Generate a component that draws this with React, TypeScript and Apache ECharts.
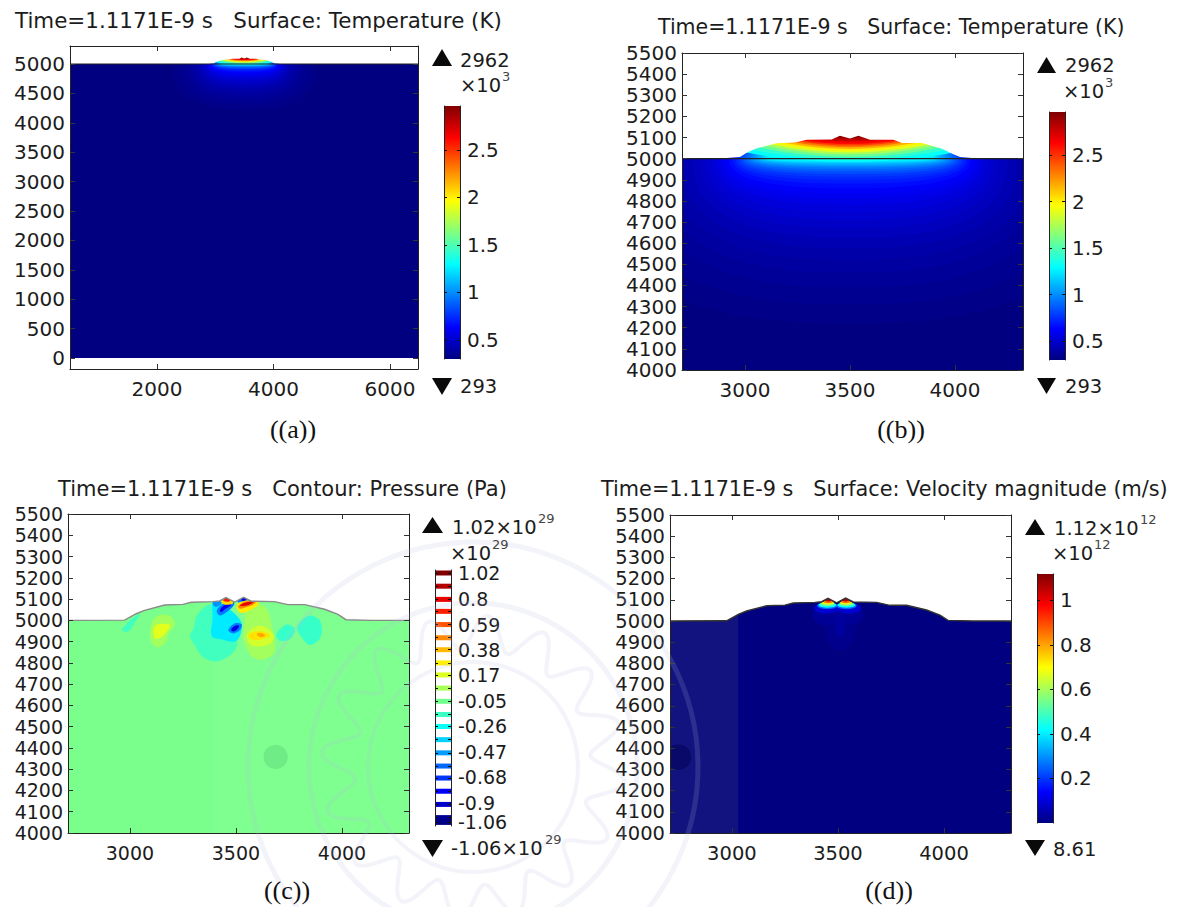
import React, { useEffect, useRef } from "react";
import * as echarts from "echarts";

type P = [number, number];
type Layer = { pts: P[]; fill?: string; stroke?: string; lw?: number; smooth?: number };

const FONT = "DejaVu Sans";
const INK = "#1c1c1c";

// axis ticks
const xTicksA = [2000, 4000, 6000];
const yTicksA = [0, 500, 1000, 1500, 2000, 2500, 3000, 3500, 4000, 4500, 5000];
const xTicksZoom = [3000, 3500, 4000];
const yTicksZoom = [4000, 4100, 4200, 4300, 4400, 4500, 4600, 4700, 4800, 4900, 5000, 5100, 5200, 5300, 5400, 5500];
const tempBarTicks = [0.5, 1, 1.5, 2, 2.5];
const velBarTicks = [0.2, 0.4, 0.6, 0.8, 1];
const pressureLabels = [1.02, 0.8, 0.59, 0.38, 0.17, -0.05, -0.26, -0.47, -0.68, -0.9, -1.06];
const pressureLevels = [1.02, 0.91, 0.8, 0.7, 0.59, 0.48, 0.38, 0.27, 0.17, 0.06, -0.05, -0.16, -0.26, -0.37, -0.48, -0.59, -0.69, -0.8, -0.91, -1.02, -1.06];

// free-surface outlines
const domeProfile: P[] = [[500, 5000], [2881, 5001], [2976, 5008], [3008, 5028], [3056, 5049], [3151, 5073], [3238, 5076], [3294, 5090], [3413, 5091], [3452, 5109], [3500, 5095], [3540, 5109], [3595, 5090], [3706, 5090], [3748, 5074], [3843, 5074], [3938, 5047], [3984, 5025], [4024, 5008], [4119, 5000], [6500, 5000]];
const crownProfile: P[] = [[2700, 5000], [2975, 5001], [3030, 5031], [3069, 5047], [3164, 5072], [3250, 5075], [3289, 5085], [3392, 5088], [3423, 5091], [3453, 5107], [3494, 5086], [3536, 5108], [3572, 5090], [3682, 5088], [3745, 5074], [3824, 5074], [3918, 5052], [3981, 5028], [4019, 5003], [4137, 5000], [4400, 5000]];

// temperature isotherms below the surface: [fraction of colour range, half width, depth]
const tempDeep: [number, number, number][] = [
  [0.008, 1250, 780], [0.016, 1120, 690], [0.024, 1000, 610], [0.032, 920, 540], [0.04, 860, 480], [0.05, 800, 425],
  [0.06, 750, 375], [0.07, 710, 330], [0.08, 680, 290], [0.09, 650, 252], [0.1, 630, 218], [0.11, 610, 190],
  [0.12, 595, 165], [0.135, 575, 140], [0.15, 558, 118], [0.165, 545, 100], [0.18, 532, 86], [0.2, 518, 72],
  [0.22, 503, 60], [0.24, 488, 50], [0.26, 472, 42], [0.28, 456, 35], [0.3, 440, 29], [0.32, 425, 23], [0.34, 412, 18], [0.36, 400, 14],
];
// isotherms inside the dome: [fraction, height at centre, height 500 off centre]
const tempDome: [number, number, number][] = [
  [0.38, 4985, 5030], [0.42, 4995, 5050], [0.48, 5008, 5068], [0.54, 5020, 5085], [0.6, 5030, 5098], [0.64, 5038, 5108],
  [0.7, 5046, 5120], [0.76, 5054, 5135], [0.82, 5062, 5145], [0.88, 5070, 5150], [0.93, 5082, 5160], [0.97, 5094, 5170], [1, 5102, 5180],
];

// pressure blobs (value in 1e29 Pa and outline)
const pressureBlobs: [number, P[]][] = [
  [-0.15, [[3047, 5030], [3024, 4991], [2992, 4947], [2961, 4956], [2977, 4975], [3008, 5006]]],
  [0.05, [[3118, 5014], [3181, 5025], [3212, 4983], [3181, 4936], [3173, 4904], [3138, 4873], [3102, 4896], [3094, 4943]]],
  [0.18, [[3118, 4975], [3189, 4978], [3157, 4928], [3118, 4915]]],
  [-0.15, [[3362, 5069], [3401, 5069], [3409, 4928], [3503, 4904], [3487, 4849], [3409, 4807], [3346, 4826], [3307, 4881], [3283, 4928], [3299, 4959], [3315, 5022]]],
  [-0.32, [[3393, 5093], [3440, 5069], [3487, 5038], [3527, 4983], [3503, 4904], [3425, 4912], [3385, 4928], [3390, 5006]]],
  [0.05, [[3550, 5053], [3613, 5077], [3653, 5038], [3668, 4975], [3684, 4896], [3676, 4841], [3613, 4815], [3566, 4841], [3535, 4912], [3542, 4991]]],
  [0.15, [[3553, 4936], [3613, 4975], [3676, 4936], [3668, 4896], [3613, 4877], [3566, 4888]]],
  [0.3, [[3559, 4934], [3614, 4949], [3661, 4929], [3614, 4910], [3574, 4910]]],
  [0.42, [[3598, 4934], [3617, 4942], [3637, 4929], [3614, 4921]]],
  [-0.17, [[3692, 4936], [3739, 4980], [3778, 4959], [3755, 4912], [3708, 4904]]],
  [-0.17, [[3789, 4967], [3841, 5022], [3896, 4998], [3899, 4920], [3849, 4884], [3810, 4920]]],
  [-0.5, [[3393, 5091], [3417, 5096], [3433, 5080], [3409, 5064], [3393, 5071]]],
  [-0.55, [[3409, 5044], [3433, 5075], [3480, 5094], [3492, 5075], [3456, 5039], [3425, 5023]]],
  [-0.82, [[3425, 5049], [3441, 5067], [3472, 5080], [3477, 5071], [3448, 5052], [3430, 5039]]],
  [0.32, [[3432, 5088], [3450, 5105], [3485, 5095], [3484, 5078], [3445, 5074]]],
  [0.7, [[3440, 5094], [3456, 5111], [3478, 5100], [3470, 5090], [3448, 5088]]],
  [1, [[3450, 5103], [3456, 5112], [3466, 5106], [3458, 5100]]],
  [-0.55, [[3508, 5099], [3540, 5115], [3566, 5096], [3535, 5083], [3511, 5083]]],
  [-0.85, [[3525, 5096], [3540, 5110], [3552, 5098], [3538, 5090]]],
  [0.28, [[3504, 5060], [3511, 5083], [3598, 5096], [3606, 5075], [3558, 5044], [3519, 5036]]],
  [0.5, [[3511, 5067], [3543, 5089], [3593, 5089], [3582, 5074], [3543, 5060], [3519, 5055]]],
  [0.82, [[3519, 5070], [3543, 5083], [3582, 5086], [3566, 5075], [3535, 5067]]],
  [-0.55, [[3464, 4954], [3496, 4986], [3527, 4981], [3519, 4954], [3488, 4938]]],
  [-0.85, [[3477, 4957], [3499, 4976], [3515, 4973], [3505, 4957], [3488, 4948]]],
];

// velocity blobs: [centre x, centre y, half width, half height, value in 1e12 m/s]
const velocityBlobs: [number, number, number, number, number][] = [
  [3510, 4960, 70, 100, 0.015], [3440, 5030, 60, 50, 0.025], [3560, 5030, 60, 50, 0.025], [3510, 4980, 25, 60, 0.035],
  [3445, 5060, 58, 25, 0.09], [3550, 5060, 58, 25, 0.09],
  [3450, 5072, 48, 16, 0.25], [3540, 5072, 48, 16, 0.25],
  [3450, 5075, 42, 12, 0.42], [3540, 5075, 42, 12, 0.42],
  [3450, 5080, 35, 9, 0.55], [3540, 5080, 35, 9, 0.55],
  [3452, 5085, 30, 7, 0.68], [3538, 5085, 30, 7, 0.68],
  [3454, 5091, 22, 7, 0.85], [3537, 5091, 22, 7, 0.85],
  [3455, 5099, 14, 7, 1.05], [3536, 5099, 14, 7, 1.05],
];

const cl = (v: number) => Math.max(0, Math.min(1, v));
const jet = (t: number) => {
  const c = (o: number) => Math.round(255 * cl(1.5 - Math.abs(4 * t - o)));
  return `rgb(${c(3)},${c(2)},${c(1)})`;
};
const pColor = (p: number) => jet((p + 1.06) / 2.08);

const ellipse = (cx: number, cy: number, rx: number, up: number, down: number, n = 2): P[] => {
  const out: P[] = [];
  for (let i = 0; i < 72; i++) {
    const a = (i / 72) * Math.PI * 2;
    const s = Math.sin(a), c = Math.cos(a);
    out.push([cx + rx * Math.sign(c) * Math.pow(Math.abs(c), 2 / n), cy + (s > 0 ? up : down) * Math.sign(s) * Math.pow(Math.abs(s), 2 / n)]);
  }
  return out;
};
const mask = (profile: P[]): P[] => [...profile, [profile[profile.length - 1][0], 6000], [profile[0][0], 6000]];

const tempLayers = (): Layer[] => {
  const ls: Layer[] = [{ pts: [[0, 0], [7000, 0], [7000, 5000], [0, 5000]], fill: jet(0) }];
  tempDeep.forEach(([t, hw, d]) => ls.push({ pts: ellipse(3500, 5000, hw, 90, d, 2.5), fill: jet(t) }));
  tempDome.forEach(([t, yc, ye]) => {
    const pts: P[] = [];
    for (let i = -14; i <= 14; i++) {
      const u = i / 10;
      pts.push([3500 + u * 500, yc + (ye - yc) * u * u]);
    }
    pts.push([4200, 5400], [2800, 5400]);
    ls.push({ pts, fill: jet(t) });
  });
  ls.push({ pts: mask(domeProfile), fill: "#fff" });
  ls.push({ pts: [[0, 5000], [7000, 5000]], stroke: "#222", lw: 1.2 });
  return ls;
};

const pressureLayers = (): Layer[] => {
  const ls: Layer[] = [
    { pts: [[2700, 4000], [4400, 4000], [4400, 5200], [2700, 5200]], fill: "#7aff8c" },
    { pts: [[3391, 4000], [4400, 4000], [4400, 5200], [3391, 5200]], fill: "#7fff90" },
    { pts: ellipse(3687, 4358, 57, 57, 57), fill: "#70ec86" },
  ];
  pressureBlobs.forEach(([p, pts]) => ls.push({ pts, fill: pColor(p), smooth: 0.35 }));
  ls.push({ pts: mask(crownProfile), fill: "#fff" });
  ls.push({ pts: crownProfile, stroke: "#8a8a8a", lw: 1.4 });
  return ls;
};

const velocityLayers = (): Layer[] => {
  const ls: Layer[] = [
    { pts: [[2700, 4000], [4400, 4000], [4400, 5200], [2700, 5200]], fill: jet(0) },
    { pts: [[2700, 4000], [3030, 4000], [3030, 5200], [2700, 5200]], fill: "#13137f" },
    { pts: ellipse(2748, 4358, 60, 60, 60), fill: "#09096a" },
  ];
  velocityBlobs.forEach(([cx, cy, rx, ry, v]) => ls.push({ pts: ellipse(cx, cy, rx, ry, ry), fill: jet(v / 1.119) }));
  ls.push({ pts: mask(crownProfile), fill: "#fff" });
  ls.push({ pts: crownProfile, stroke: "#333", lw: 1.4 });
  return ls;
};

const plots = [
  { l: 70, t: 46, w: 348, h: 323, x: [506, 6480], y: [-187, 5306], xt: xTicksA, yt: yTicksA, fs: 20, layers: tempLayers() },
  { l: 682, t: 53, w: 341, h: 317, x: [2700, 4324], y: [4000, 5500], xt: xTicksZoom, yt: yTicksZoom, fs: 20, layers: tempLayers() },
  { l: 68, t: 514, w: 341, h: 319, x: [2708, 4316], y: [4000, 5500], xt: xTicksZoom, yt: yTicksZoom, fs: 19, layers: pressureLayers() },
  { l: 670, t: 515, w: 341, h: 318, x: [2708, 4316], y: [4000, 5500], xt: xTicksZoom, yt: yTicksZoom, fs: 19.5, layers: velocityLayers() },
];
const bars = [
  { l: 444, t: 106, w: 16, h: 253, y: [0.3, 2.96], ticks: tempBarTicks, labels: tempBarTicks, discrete: false, fs: 20 },
  { l: 1049, t: 112, w: 16, h: 248, y: [0.3, 2.96], ticks: tempBarTicks, labels: tempBarTicks, discrete: false, fs: 20 },
  { l: 435, t: 570, w: 16, h: 256, y: [-1.09, 1.045], ticks: pressureLevels, labels: pressureLabels, discrete: true, fs: 19 },
  { l: 1037, t: 574, w: 16, h: 249, y: [0, 1.119], ticks: velBarTicks, labels: velBarTicks, discrete: false, fs: 20 },
];

// [text, x, y, font size]
const titles: [string, number, number, number][] = [
  ["Time=1.1171E-9 s   Surface: Temperature (K)", 15, 20, 21.4],
  ["Time=1.1171E-9 s   Surface: Temperature (K)", 658, 27, 20.5],
  ["Time=1.1171E-9 s   Contour: Pressure (Pa)", 58, 489, 21],
  ["Time=1.1171E-9 s   Surface: Velocity magnitude (m/s)", 601, 489, 20.8],
];
const captions: [string, number, number][] = [["((a))", 293, 429], ["((b))", 901, 429], ["((c))", 287, 890], ["((d))", 889, 890]];
// [text, exponent, x, y, exponent offset]
const legendTexts: [string, string, number, number, number][] = [
  ["2962", "", 460, 60, 0], ["×10", "3", 460, 85, 43], ["293", "", 460, 386, 0],
  ["2962", "", 1065, 65, 0], ["×10", "3", 1063, 91, 43], ["293", "", 1065, 386, 0],
  ["1.02×10", "29", 452, 527, 87], ["×10", "29", 450, 553, 43], ["-1.06×10", "29", 451, 848, 95],
  ["1.12×10", "12", 1054, 528, 87], ["×10", "12", 1052, 553, 43], ["8.61", "", 1053, 849, 0],
];
// [left, top, width, height, pointing up]
const arrows: [number, number, number, number, boolean][] = [
  [432, 49, 20, 17, true], [432, 378, 20, 17, false],
  [1037, 57, 19, 16, true], [1037, 378, 19, 16, false],
  [422, 517, 21, 16, true], [422, 840, 21, 17, false],
  [1025, 519, 20, 16, true], [1025, 840, 20, 16, false],
];
const watermarkRings: [number, number][] = [[225, 5], [164, 5], [105, 4]];
const WATER = "rgba(185,185,225,0.17)";

const text = (s: string, x: number, y: number, size: number, family = FONT, align = "left", fill = INK) => ({
  type: "text", x, y, z: 20, silent: true,
  style: { text: s, fontSize: size, fontFamily: family, fill, align, verticalAlign: "middle" },
});

const buildOption = () => {
  const grid: any[] = [], xAxis: any[] = [], yAxis: any[] = [], series: any[] = [];
  const axisBase = (ticks: number[]) => ({
    type: "value", z: 10, splitLine: { show: false },
    axisLine: { show: true, onZero: false, lineStyle: { color: "#222", width: 1 } },
    axisTick: { show: true, inside: true, length: 5, customValues: ticks, lineStyle: { color: "#333", width: 1 } },
  });
  plots.forEach((p) => {
    const labelStyle = { fontFamily: FONT, fontSize: p.fs, color: INK };
    const g = grid.length;
    grid.push({ left: p.l, top: p.t, width: p.w, height: p.h });
    const xi = xAxis.length, yi = yAxis.length;
    xAxis.push({ ...axisBase(p.xt), gridIndex: g, position: "bottom", min: p.x[0], max: p.x[1], axisLabel: { ...labelStyle, margin: 10, customValues: p.xt, formatter: (v: number) => String(v) } });
    xAxis.push({ ...axisBase(p.xt), gridIndex: g, position: "top", min: p.x[0], max: p.x[1], axisLabel: { show: false } });
    yAxis.push({ ...axisBase(p.yt), gridIndex: g, position: "left", min: p.y[0], max: p.y[1], axisLabel: { ...labelStyle, margin: 5, customValues: p.yt, formatter: (v: number) => String(v) } });
    yAxis.push({ ...axisBase(p.yt), gridIndex: g, position: "right", min: p.y[0], max: p.y[1], axisLabel: { show: false } });
    series.push({
      type: "custom", xAxisIndex: xi, yAxisIndex: yi, clip: true, silent: true, z: 2,
      data: p.layers.map((_, i) => [i, 0]), encode: { x: 0, y: 1 },
      renderItem: (params: any, api: any) => {
        const l = p.layers[params.dataIndex];
        const points = l.pts.map((q) => api.coord(q));
        return l.stroke
          ? { type: "polyline", shape: { points }, style: { fill: "none", stroke: l.stroke, lineWidth: l.lw } }
          : { type: "polygon", shape: { points, smooth: l.smooth || 0 }, style: { fill: l.fill } };
      },
    });
  });
  bars.forEach((b) => {
    const labelStyle = { fontFamily: FONT, fontSize: b.fs, color: INK };
    const g = grid.length;
    grid.push({ left: b.l, top: b.t, width: b.w, height: b.h });
    const xi = xAxis.length, yi = yAxis.length;
    xAxis.push({ type: "value", gridIndex: g, min: 0, max: 1, show: false });
    const tick = { show: true, inside: true, length: 3, customValues: b.ticks, lineStyle: { color: "#111", width: 1 } };
    yAxis.push({ ...axisBase(b.ticks), gridIndex: g, position: "right", min: b.y[0], max: b.y[1], axisTick: tick,
      axisLabel: { ...labelStyle, margin: 7, hideOverlap: false, customValues: b.labels, formatter: (v: number) => String(v) } });
    yAxis.push({ ...axisBase(b.ticks), gridIndex: g, position: "left", min: b.y[0], max: b.y[1], axisTick: tick, axisLabel: { show: false } });
    const stops = [0, 0.125, 0.375, 0.625, 0.875, 1].map((t) => ({ offset: t, color: jet(t) }));
    const vals = b.discrete ? b.ticks : [b.y[0]];
    series.push({
      type: "custom", xAxisIndex: xi, yAxisIndex: yi, clip: true, silent: true, z: 2,
      data: vals.map((v) => [0, v]), encode: { x: 0, y: 1 },
      renderItem: (params: any, api: any) => {
        const v = api.value(1);
        if (!b.discrete) {
          const a = api.coord([0, b.y[1]]), c = api.coord([1, b.y[0]]);
          return { type: "rect", shape: { x: a[0], y: a[1], width: c[0] - a[0], height: c[1] - a[1] }, style: { fill: new echarts.graphic.LinearGradient(0, 1, 0, 0, stops) } };
        }
        const a = api.coord([0, v]), c = api.coord([1, v]);
        return { type: "rect", shape: { x: a[0], y: a[1] - 2.5, width: c[0] - a[0], height: 5 }, style: { fill: pColor(v) } };
      },
    });
  });

  const graphics: any[] = [];
  watermarkRings.forEach(([r, lw]) => graphics.push({
    type: "circle", silent: true, z: 15, shape: { cx: 473, cy: 767, r },
    style: { fill: "none", stroke: WATER, lineWidth: lw },
  }));
  const teeth: P[] = [];
  for (let i = 0; i < 192; i++) {
    const a = (i / 192) * Math.PI * 2;
    const r = 135 + 17 * Math.sin(a * 16);
    teeth.push([473 + r * Math.cos(a), 767 + r * Math.sin(a)]);
  }
  graphics.push({ type: "polygon", silent: true, z: 15, shape: { points: teeth, smooth: 0.4 }, style: { fill: "none", stroke: WATER, lineWidth: 4 } });
  titles.forEach(([s, x, y, fs]) => graphics.push(text(s, x, y, fs)));
  captions.forEach(([s, x, y]) => graphics.push(text(s, x, y, 26, "Liberation Serif", "center", "#111")));
  arrows.forEach(([l, t, w, h, up]) => graphics.push({
    type: "polygon", silent: true, z: 20,
    shape: { points: up ? [[l + w / 2, t], [l + w, t + h], [l, t + h]] : [[l, t], [l + w, t], [l + w / 2, t + h]] },
    style: { fill: "#0a0a0a" },
  }));
  legendTexts.forEach(([s, sup, x, y, off]) => {
    graphics.push(text(s, x, y, 19.5));
    if (sup) graphics.push(text(sup, x + off - 1, y - 9, 13, FONT, "left", "#444"));
  });

  return { animation: false, backgroundColor: "#fff", grid, xAxis, yAxis, series, graphic: { elements: graphics } };
};

export default function App() {
  const ref = useRef<HTMLDivElement>(null);
  useEffect(() => {
    const chart = echarts.init(ref.current!, undefined, { renderer: "svg" });
    chart.setOption(buildOption() as any);
    return () => chart.dispose();
  }, []);
  return <div ref={ref} style={{ position: "fixed", left: 0, top: 0, width: 1183, height: 907 }} />;
}
